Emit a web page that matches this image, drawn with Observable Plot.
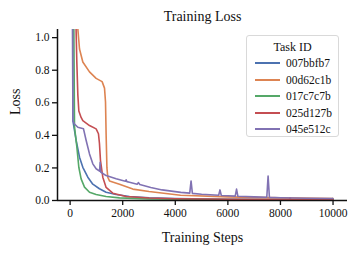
<!DOCTYPE html>
<html>
<head>
<meta charset="utf-8">
<script src="https://cdn.jsdelivr.net/npm/d3@7"></script>
<script src="https://cdn.jsdelivr.net/npm/@observablehq/plot@0.6"></script>
<style>
  html, body { margin: 0; padding: 0; background: white; }
  #wrap { position: relative; width: 358px; height: 253px; font-family: 'Liberation Serif', 'Times New Roman', Times, 'DejaVu Serif', serif; }
  #legend { position: absolute; left: 246px; top: 35px; width: 93px; height: 102px; box-sizing: border-box;
            border: 1px solid #d9d9d9; border-radius: 3px; background: rgba(255,255,255,0.85); font-size: 11.5px; color: #111; }
  #legend .t { text-align: center; margin-top: 3px; height: 16px; line-height: 16px; font-size: 12px; }
  #legend .r { display: flex; align-items: center; height: 16.5px; }
  #legend .sw { width: 25px; height: 0; border-top: 2px solid; margin-left: 8px; margin-right: 6px; }
  #wrap svg text { font-family: 'Liberation Serif', 'Times New Roman', Times, 'DejaVu Serif', serif; }
</style>
</head>
<body>
<div id="wrap"><div id="legend"></div></div>
<script>
const taskIds = ["007bbfb7", "00d62c1b", "017c7c7b", "025d127b", "045e512c"];
const colors = ["#4c72b0", "#dd8452", "#55a868", "#c44e52", "#8172b3"];
const xTicks = [0, 2000, 4000, 6000, 8000, 10000];
const yTicks = [0, 0.2, 0.4, 0.6, 0.8, 1.0];

const steps_007bbfb7 = [0, 95, 105, 228, 357, 483, 673, 863, 1116, 1369, 1750, 2258, 3000, 4000, 6000, 8000, 10000];
const loss_007bbfb7  = [4, 1.1, 0.49, 0.37, 0.266, 0.204, 0.143, 0.10, 0.072, 0.051, 0.037, 0.025, 0.017, 0.012, 0.008, 0.006, 0.005];

const steps_00d62c1b = [150, 285, 293, 357, 483, 737, 989, 1217, 1308, 1346, 1370, 1400, 1433, 1498, 1878, 2384, 3000, 4200, 6000, 8000, 10000];
const loss_00d62c1b  = [4, 1.1, 1.055, 0.93, 0.85, 0.79, 0.75, 0.73, 0.69, 0.605, 0.4, 0.2, 0.143, 0.12, 0.10, 0.07, 0.055, 0.032, 0.022, 0.016, 0.012];

const steps_017c7c7b = [0, 140, 167, 255, 331, 418, 547, 737, 989, 1369, 1878, 3000, 5000, 9950, 9970, 9990, 10000];
const loss_017c7c7b  = [4, 1.1, 0.45, 0.33, 0.204, 0.133, 0.082, 0.051, 0.037, 0.025, 0.016, 0.01, 0.006, 0.004, 0.012, 0.004, 0.004];

const steps_025d127b = [100, 220, 255, 293, 331, 418, 483, 737, 989, 1078, 1116, 1155, 1243, 1369, 1623, 2129, 3000, 4000, 6000, 8330, 8365, 8400, 10000];
const loss_025d127b  = [4, 1.1, 0.85, 0.65, 0.55, 0.51, 0.49, 0.46, 0.44, 0.41, 0.35, 0.245, 0.143, 0.08, 0.045, 0.025, 0.015, 0.011, 0.008, 0.006, 0.016, 0.006, 0.005];

const steps_045e512c = [0, 95, 105, 167, 293, 509, 608, 737, 863, 989, 1120, 1141, 1160, 1369, 1750, 2100, 2129, 2160, 2258, 2550, 2600, 2650, 3068, 3500, 4209, 4550, 4600, 4650, 5000, 5650, 5700, 5750, 6000, 6280, 6330, 6380, 7000, 7480, 7530, 7580, 8000, 9000, 10000];
const loss_045e512c  = [4, 1.1, 0.49, 0.47, 0.45, 0.44, 0.37, 0.286, 0.225, 0.195, 0.18, 0.235, 0.175, 0.153, 0.133, 0.118, 0.127, 0.116, 0.112, 0.10, 0.11, 0.098, 0.08, 0.065, 0.05, 0.045, 0.12, 0.044, 0.038, 0.032, 0.065, 0.031, 0.029, 0.027, 0.07, 0.026, 0.022, 0.02, 0.15, 0.019, 0.017, 0.014, 0.012];

const seriesSteps = [steps_007bbfb7, steps_00d62c1b, steps_017c7c7b, steps_025d127b, steps_045e512c];
const seriesLoss = [loss_007bbfb7, loss_00d62c1b, loss_017c7c7b, loss_025d127b, loss_045e512c];

const data = [];
taskIds.forEach((id, i) => {
  seriesSteps[i].forEach((s, j) => data.push({task: id, step: s, loss: seriesLoss[i][j]}));
});

const chart = Plot.plot({
  width: 358,
  height: 253,
  marginLeft: 57,
  marginRight: 11,
  marginTop: 29,
  marginBottom: 53,
  style: {fontFamily: "'Liberation Serif', 'Times New Roman', serif", fontSize: "11.5px", background: "white", color: "#111"},
  x: {domain: [-480, 10550]},
  y: {domain: [0, 1.05]},
  color: {domain: taskIds, range: colors},
  marks: [
    Plot.line(data, {x: "step", y: "loss", z: "task", stroke: "task", strokeWidth: 1.6, clip: true}),
    Plot.ruleX([-480], {stroke: "#111", strokeWidth: 1.5}),
    Plot.ruleY([0], {stroke: "#111", strokeWidth: 1.5}),
    Plot.axisX({ticks: xTicks, tickFormat: d3.format("d"), tickSize: 5, tickPadding: 3, label: null, strokeWidth: 1.3}),
    Plot.axisY({ticks: yTicks, tickFormat: d3.format(".1f"), tickSize: 5, tickPadding: 3, label: null, strokeWidth: 1.3}),
    Plot.text(["Training Loss"], {frameAnchor: "top", lineAnchor: "middle", dy: -13, fontSize: 14}),
    Plot.text(["Training Steps"], {frameAnchor: "bottom", lineAnchor: "middle", dy: 37, fontSize: 14}),
    Plot.text(["Loss"], {frameAnchor: "left", lineAnchor: "middle", dx: -42, rotate: -90, fontSize: 14})
  ]
});
const wrap = document.getElementById("wrap");
wrap.insertBefore(chart, wrap.firstChild);

const legend = document.getElementById("legend");
const t = document.createElement("div");
t.className = "t"; t.textContent = "Task ID";
legend.appendChild(t);
taskIds.forEach((id, i) => {
  const r = document.createElement("div");
  r.className = "r";
  const sw = document.createElement("span");
  sw.className = "sw"; sw.style.borderTopColor = colors[i];
  const lab = document.createElement("span");
  lab.textContent = id;
  r.appendChild(sw); r.appendChild(lab);
  legend.appendChild(r);
});
</script>
</body>
</html>
